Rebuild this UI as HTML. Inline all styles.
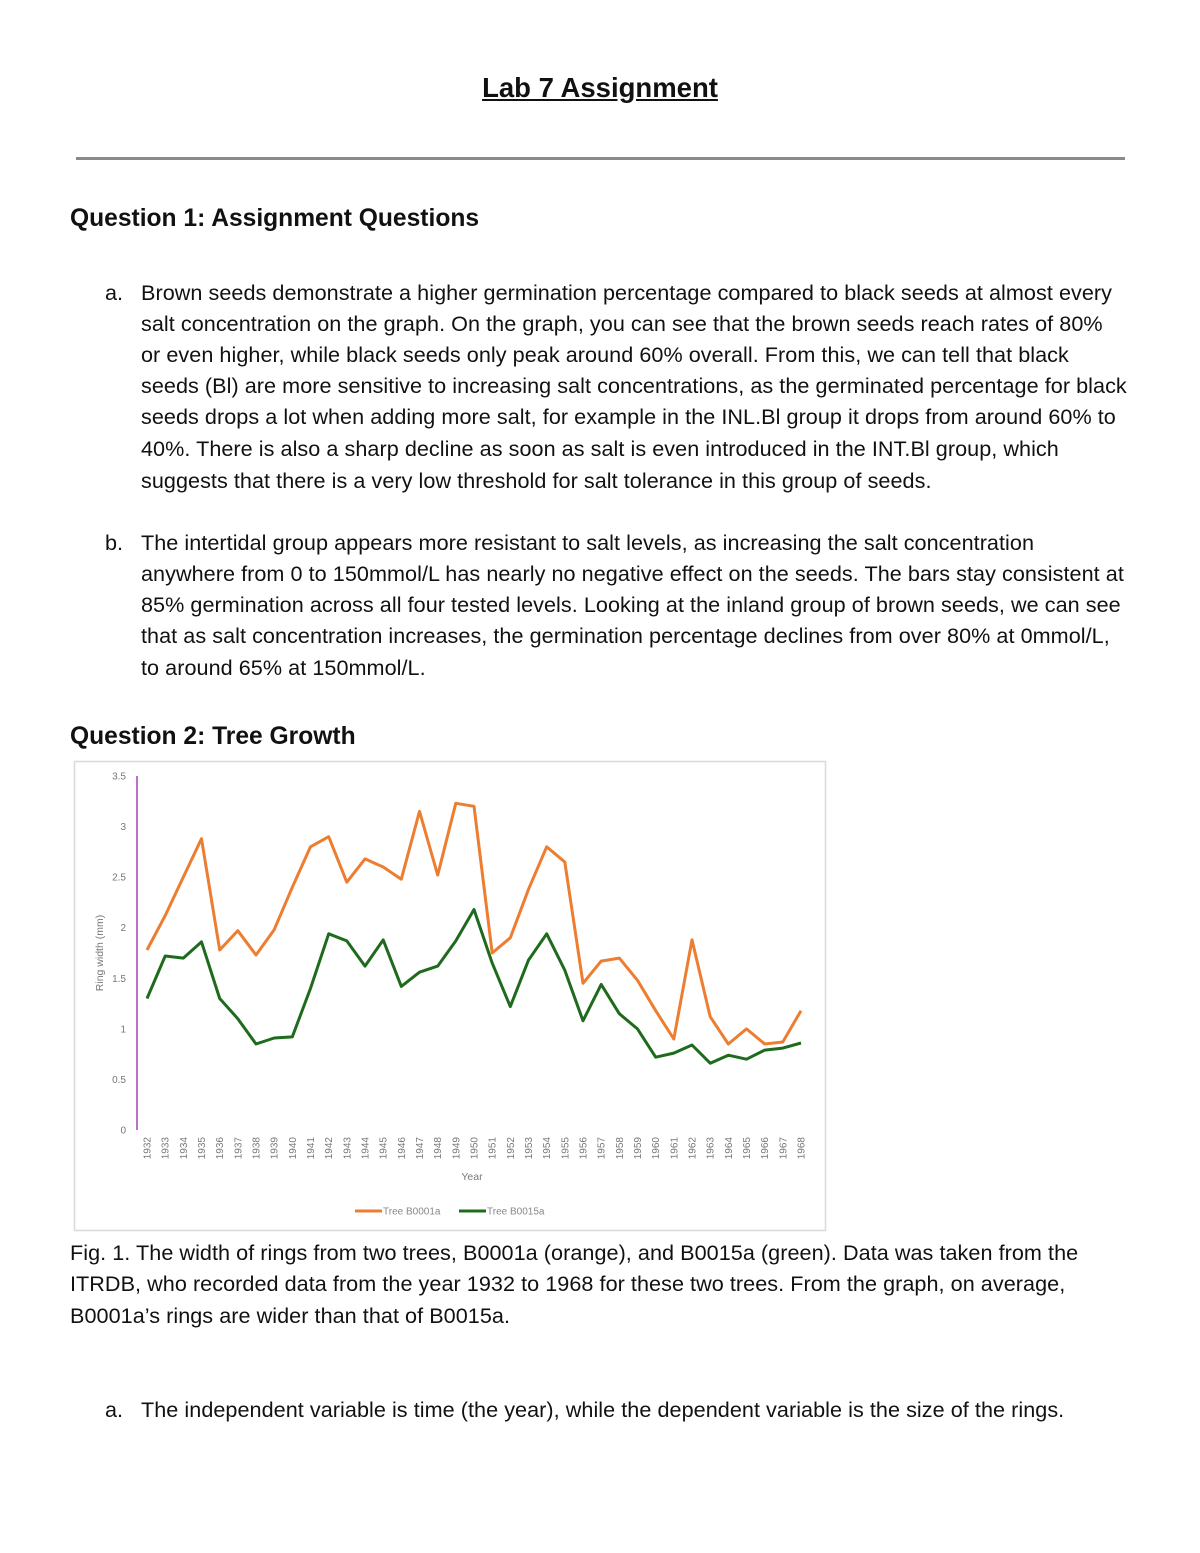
<!DOCTYPE html>
<html><head><meta charset="utf-8">
<style>
html,body{margin:0;padding:0;background:#fff;}
body{width:1200px;height:1553px;position:relative;overflow:hidden;font-family:"Liberation Sans",Arial,sans-serif;color:#111;}
.t{position:absolute;white-space:nowrap;font-size:21.6px;line-height:31px;letter-spacing:0.05px;}
.h{position:absolute;white-space:nowrap;font-size:24.6px;font-weight:bold;}
.m{position:absolute;font-size:21.6px;line-height:31px;}
</style></head>
<body>
<div style="position:absolute;left:0;width:1200px;top:72px;text-align:center;font-size:27.5px;font-weight:bold;text-decoration:underline;">Lab 7 Assignment</div>
<div style="position:absolute;left:76px;width:1049px;top:157px;height:3px;background:#8a8a8a;"></div>
<div class="h" style="left:70px;top:205px;">Question 1: Assignment Questions</div>

<div class="m" style="left:105px;top:277px;">a.</div>
<div>
<div class="t" style="left:141px;top:277px;">Brown seeds demonstrate a higher germination percentage compared to black seeds at almost every</div>
<div class="t" style="left:141px;top:308px;">salt concentration on the graph. On the graph, you can see that the brown seeds reach rates of 80%</div>
<div class="t" style="left:141px;top:339px;">or even higher, while black seeds only peak around 60% overall. From this, we can tell that black</div>
<div class="t" style="left:141px;top:370px;">seeds (Bl) are more sensitive to increasing salt concentrations, as the germinated percentage for black</div>
<div class="t" style="left:141px;top:401px;">seeds drops a lot when adding more salt, for example in the INL.Bl group it drops from around 60% to</div>
<div class="t" style="left:141px;top:433px;">40%. There is also a sharp decline as soon as salt is even introduced in the INT.Bl group, which</div>
<div class="t" style="left:141px;top:465px;">suggests that there is a very low threshold for salt tolerance in this group of seeds.</div>
</div>

<div class="m" style="left:105px;top:527px;">b.</div>
<div>
<div class="t" style="left:141px;top:527px;">The intertidal group appears more resistant to salt levels, as increasing the salt concentration</div>
<div class="t" style="left:141px;top:558px;">anywhere from 0 to 150mmol/L has nearly no negative effect on the seeds. The bars stay consistent at</div>
<div class="t" style="left:141px;top:589px;">85% germination across all four tested levels. Looking at the inland group of brown seeds, we can see</div>
<div class="t" style="left:141px;top:620px;">that as salt concentration increases, the germination percentage declines from over 80% at 0mmol/L,</div>
<div class="t" style="left:141px;top:652px;">to around 65% at 150mmol/L.</div>
</div>

<div class="h" style="left:70px;top:723px;">Question 2: Tree Growth</div>

<svg id="chart" style="position:absolute;left:0;top:0;" width="1200" height="1553"></svg>

<div>
<div class="t" style="left:70px;top:1237px;">Fig. 1. The width of rings from two trees, B0001a (orange), and B0015a (green). Data was taken from the</div>
<div class="t" style="left:70px;top:1268px;">ITRDB, who recorded data from the year 1932 to 1968 for these two trees. From the graph, on average,</div>
<div class="t" style="left:70px;top:1300px;">B0001a’s rings are wider than that of B0015a.</div>
</div>
<div class="m" style="left:105px;top:1394px;">a.</div>
<div class="t" style="left:141px;top:1394px;">The independent variable is time (the year), while the dependent variable is the size of the rings.</div>

<script>
const years = [1932,1933,1934,1935,1936,1937,1938,1939,1940,1941,1942,1943,1944,1945,1946,1947,1948,1949,1950,1951,1952,1953,1954,1955,1956,1957,1958,1959,1960,1961,1962,1963,1964,1965,1966,1967,1968];
const treeB0001a = [1.78,2.12,2.5,2.88,1.78,1.97,1.73,1.98,2.4,2.8,2.9,2.45,2.68,2.6,2.48,3.15,2.52,3.23,3.2,1.75,1.9,2.38,2.8,2.65,1.45,1.67,1.7,1.48,1.18,0.9,1.88,1.12,0.85,1.0,0.85,0.87,1.18];
const treeB0015a = [1.3,1.72,1.7,1.86,1.3,1.1,0.85,0.91,0.92,1.4,1.94,1.87,1.62,1.88,1.42,1.56,1.62,1.87,2.18,1.65,1.22,1.68,1.94,1.58,1.08,1.44,1.15,1.0,0.72,0.76,0.84,0.66,0.74,0.7,0.79,0.81,0.86];
const yTicks = [0,0.5,1,1.5,2,2.5,3,3.5];
const yTickLabels = ["0","0.5","1","1.5","2","2.5","3","3.5"];

const NS = "http://www.w3.org/2000/svg";
const svg = document.getElementById("chart");
const x0 = 147, x1 = 801, yZero = 1130, yTop = 776, yMax = 3.5;
function xPos(i){ return x0 + (x1 - x0) * i / (years.length - 1); }
function yPos(v){ return yZero - (yZero - yTop) * v / yMax; }
function mk(tag, attrs){ const e = document.createElementNS(NS, tag); for (const k in attrs) e.setAttribute(k, attrs[k]); svg.appendChild(e); return e; }

const frame = mk("rect", {x:74.5, y:761.5, width:751, height:469, fill:"#fff", stroke:"#d9d9d9", "stroke-width":1.5});



const axis = mk("line", {x1:137, y1:yTop, x2:137, y2:yZero, stroke:"#a640b8", "stroke-width":1.5});



yTicks.forEach((v, i) => {
  const t = mk("text", {x:126, y:yPos(v) + 3.5, "text-anchor":"end", "font-size":10, fill:"#777", "font-family":"Liberation Sans, sans-serif"});
  t.textContent = yTickLabels[i];
  
  
});

years.forEach((yr, i) => {
  const x = xPos(i);
  const t = mk("text", {x:0, y:0, "text-anchor":"end", "font-size":10, fill:"#777", "font-family":"Liberation Sans, sans-serif", transform:"translate(" + (x + 3.5) + ",1137) rotate(-90)"});
  t.textContent = yr;
  
  
});

const yt = mk("text", {x:0, y:0, "text-anchor":"middle", "font-size":10.5, fill:"#777", "font-family":"Liberation Sans, sans-serif", transform:"translate(103,953) rotate(-90)"});
yt.textContent = "Ring width (mm)";



const xt = mk("text", {x:472, y:1180, "text-anchor":"middle", "font-size":10.5, fill:"#777", "font-family":"Liberation Sans, sans-serif"});
xt.textContent = "Year";



function series(vals, color, name){
  const p = vals.map((v, i) => (i ? "L" : "M") + xPos(i).toFixed(1) + "," + yPos(v).toFixed(1)).join(" ");
  const e = mk("path", {d:p, fill:"none", stroke:color, "stroke-width":3, "stroke-linejoin":"round"});
  
  
}
series(treeB0001a, "#ed7d31", "line-tree-b0001a");
series(treeB0015a, "#1e6b1e", "line-tree-b0015a");

const l1 = mk("line", {x1:355, y1:1211, x2:382, y2:1211, stroke:"#ed7d31", "stroke-width":3});


const lt1 = mk("text", {x:383, y:1214.5, "font-size":10, fill:"#888", "font-family":"Liberation Sans, sans-serif"});
lt1.textContent = "Tree B0001a";


const l2 = mk("line", {x1:459, y1:1211, x2:486, y2:1211, stroke:"#1e6b1e", "stroke-width":3});


const lt2 = mk("text", {x:487, y:1214.5, "font-size":10, fill:"#888", "font-family":"Liberation Sans, sans-serif"});
lt2.textContent = "Tree B0015a";


</script>
</body></html>
